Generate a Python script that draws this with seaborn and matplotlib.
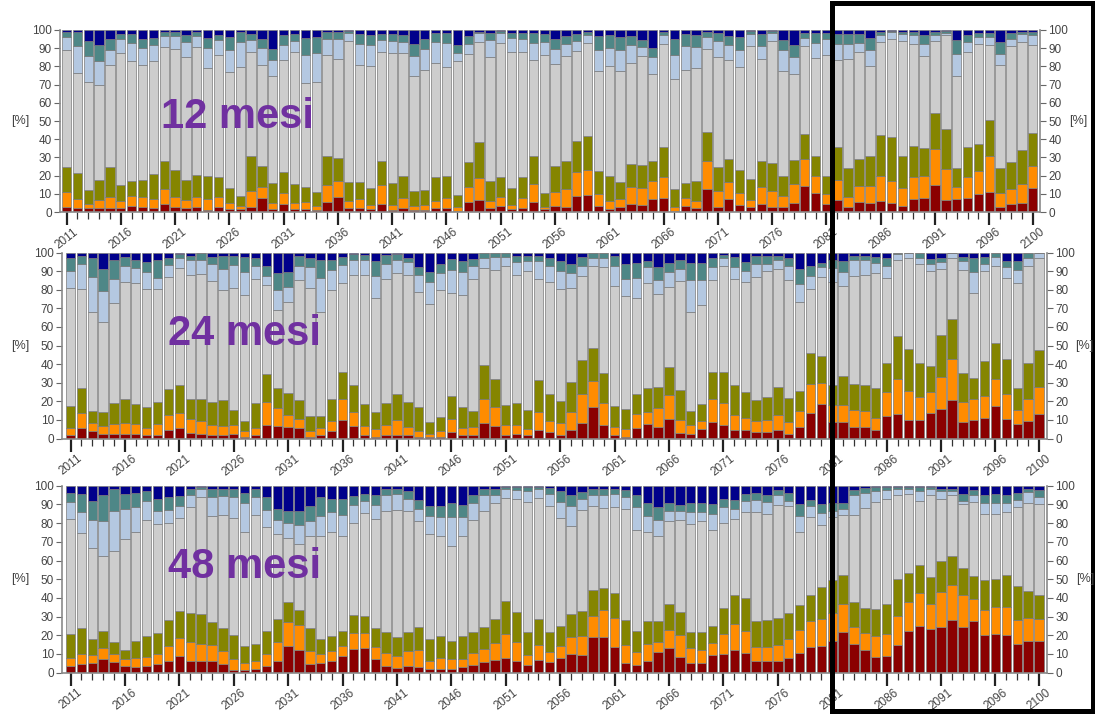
import numpy as np
import pandas as pd
import matplotlib
matplotlib.use("Agg")
import matplotlib.pyplot as plt
import matplotlib.patches as patches
import seaborn as sns

years = list(range(2011, 2101))
titles = ["12 mesi", "24 mesi", "48 mesi"]

# classes, stacked bottom -> top
classes = ["red", "orange", "olive", "gray", "lightblue", "teal", "navy"]
palette = {"red": "#8B0000", "orange": "#FF8C00", "olive": "#858500",
           "gray": "#CDCDCD", "lightblue": "#B4C8E1", "teal": "#4E8787",
           "navy": "#00008B"}

# cumulative top of each class [%] per year (navy fills up to 100)
red_12 = [3, 2, 2, 2, 2, 2, 3.5, 3, 2, 4.5, 2.5, 2, 2.5, 1, 3, 1.5, 1.5, 2.5, 7.5, 1.5,
          4.5, 1.5, 1.5, 1, 5.5, 8, 2, 2, 1.5, 4.5, 1, 2, 1, 1, 2, 2, 0.5, 5.5, 6.5, 2,
          3.5, 1.5, 2, 5.5, 1.5, 3.5, 2.5, 9, 9.5, 3.5, 1.5, 3, 4.5, 4, 7, 7.5, 0.5, 3.5, 2, 12.5,
          3, 7, 4, 2.5, 4.5, 3, 3, 5, 14.5, 10.5, 4.5, 6.5, 3, 5.5, 5, 6, 5, 3.5, 7, 7.5,
          15, 6.5, 7, 7.5, 10, 11, 3, 4.5, 5, 13]
orange_12 = [11, 7, 4.5, 6.5, 8.5, 6, 9, 8, 7, 12.5, 8.5, 6.5, 8, 7, 8.5, 5, 3.5, 11.5, 14, 5,
             10.5, 5, 5.5, 3.5, 15, 17, 6, 7, 4, 15, 4, 7.5, 3.5, 4, 6, 7.5, 2.5, 13.5, 18.5, 6,
             8, 4, 7.5, 15.5, 3, 11, 12.5, 22, 23, 10, 6, 7, 13.5, 13, 17, 19, 3, 7.5, 6, 28,
             11.5, 16.5, 10.5, 6.5, 13.5, 11.5, 9, 15.5, 29, 20, 10, 17.5, 8.5, 14.5, 14.5, 20, 17, 13, 19, 20,
             34.5, 23.5, 14, 19, 22.5, 30.5, 10.5, 12.5, 15.5, 25.5]
olive_12 = [25, 21.5, 12, 17.5, 24.5, 15, 17, 17.5, 21, 28, 23, 17.5, 20.5, 20, 19, 13, 9, 30.5, 25.5, 16,
            22, 15.5, 13.5, 11, 31, 29.5, 16.5, 16.5, 13, 28, 16, 20, 11.5, 12, 19, 20, 9.5, 27.5, 38.5, 17,
            19, 13, 19.5, 31, 10.5, 25.5, 28, 39, 42, 22.5, 20, 16.5, 26.5, 26, 28, 35.5, 12.5, 16, 17, 44,
            25, 29, 23, 18, 28, 27, 20, 28.5, 43, 30.5, 20, 35.5, 24, 29, 31, 42.5, 41, 31, 36.5, 35,
            54.5, 45.5, 24, 35.5, 37.5, 50.5, 24, 27.5, 34, 43.5]
gray_12 = [89, 76.5, 71.5, 70, 81, 87.5, 83, 80.5, 83, 90.5, 89.5, 85, 90.5, 79, 86.5, 77, 79.5, 88, 81, 74.5,
           83.5, 88, 71, 71.5, 86, 84, 94, 81, 80, 88, 87.5, 87.5, 75, 78, 82, 79.5, 83, 87, 93.5, 85,
           93, 88, 88, 83.5, 86, 81.5, 85.5, 88.5, 93, 77.5, 80, 77.5, 82, 85.5, 76, 92.5, 73, 78, 79, 89.5,
           85, 83.5, 79.5, 91, 84, 94, 77.5, 76, 91, 84.5, 86, 83.5, 84, 88, 80, 93.5, 95, 94, 92.5, 85.5,
           94, 97, 75, 88, 92.5, 91.5, 81, 91, 93.5, 92]
lblue_12 = [96, 91, 85.5, 83, 89, 95, 93, 90, 91.5, 96.5, 96.5, 93.5, 96.5, 90, 94.5, 89, 93.5, 94.5, 90, 83.5,
            92, 94, 86, 87.5, 95, 95, 98.5, 92.5, 92, 94.5, 94, 93.5, 85.5, 89.5, 93.5, 93, 87.5, 92.5, 98.5, 94.5,
            98.5, 95.5, 95, 93, 93.5, 89.5, 92.5, 94, 97, 89, 90, 89, 91.5, 90.5, 85, 97.5, 86.5, 91, 90.5, 96,
            94, 91.5, 89, 98, 91, 98.5, 89, 85, 95.5, 93, 95, 92.5, 92.5, 93, 89, 97, 99, 98, 97, 92.5,
            97, 98.5, 87, 93.5, 96, 96, 87, 95, 98, 97]
teal_12 = [99, 99, 94, 91.5, 95, 98, 98, 95, 95.5, 99, 99, 97.5, 99, 95.5, 97.5, 96, 99, 98, 95, 89.5,
           97.5, 98, 95.5, 96, 99, 99, 99.5, 98, 97.5, 98, 98, 97.5, 92.5, 95, 98.5, 98.5, 92, 96.5, 99, 98.5,
           99.5, 98.5, 98.5, 98.5, 98, 95, 96.5, 98, 99, 96.5, 97, 96, 96.5, 94.5, 90, 99, 95, 98, 97.5, 99,
           98.5, 96.5, 96, 99.5, 98, 99.5, 94.5, 92, 98.5, 98.5, 98.5, 98, 98, 98, 95.5, 99, 99.5, 99, 99, 97.5,
           99, 99.5, 94.5, 97.5, 98.5, 98.5, 93.5, 98.5, 99, 99]

red_24 = [2, 5.5, 4, 2.5, 2.5, 2.5, 2.5, 2, 2, 4.5, 5.5, 3, 2.5, 2, 2, 2.5, 1, 2, 7, 6.5,
          6, 5.5, 1, 2, 4, 10, 6.5, 2, 1, 2, 2, 2, 1, 1, 1, 3.5, 2, 2, 8.5, 6.5,
          2, 2.5, 2, 4.5, 3.5, 2, 4.5, 8.5, 17, 7, 2, 1, 5.5, 8, 6, 10.5, 3, 2.5, 5, 9,
          7.5, 4.5, 4.5, 3.5, 3.5, 4.5, 2.5, 6, 13.5, 18.5, 9, 9, 6, 6, 4.5, 12, 13, 10, 10, 13.5,
          16, 20.5, 9, 10, 11, 17.5, 10.5, 8, 9.5, 13]
orange_24 = [5.5, 13.5, 8.5, 6.5, 8, 8.5, 8, 5.5, 8, 12.5, 13.5, 10.5, 9.5, 7, 6.5, 7, 4, 5.5, 19.5, 16.5,
             12.5, 10.5, 4, 5.5, 9.5, 21, 14, 6.5, 5, 7.5, 10, 6, 4, 2.5, 4, 10.5, 5.5, 6, 21, 17,
             7, 7, 5, 14, 9.5, 8.5, 14.5, 24, 31, 19, 6, 5, 13, 14.5, 16.5, 23.5, 10, 7, 9.5, 21,
             19, 12.5, 11, 9.5, 10, 12.5, 9, 15, 29.5, 30, 18, 18, 15.5, 15, 11, 25, 32, 25.5, 22.5, 25,
             33, 42.5, 19.5, 21, 23, 32, 24, 15.5, 21, 27.5]
olive_24 = [17.5, 27, 15, 14, 19, 21, 18.5, 17, 19.5, 26.5, 29, 21, 21, 19.5, 20.5, 15.5, 9.5, 19, 34.5, 27,
            24.5, 20.5, 12, 12, 21, 35.5, 29, 18.5, 14.5, 19, 24, 19.5, 17, 9, 11.5, 23, 17, 15, 39.5, 32,
            18, 19, 15.5, 31.5, 24, 20, 30.5, 42, 48.5, 35, 17.5, 16, 24, 27, 27.5, 38.5, 26, 15, 18.5, 36,
            35.5, 29, 25, 20.5, 22.5, 27.5, 22, 25.5, 46, 44.5, 29, 33.5, 29.5, 29, 27, 40.5, 55, 48, 40.5, 39,
            55.5, 64, 35, 32.5, 41.5, 51.5, 42.5, 27, 40.5, 47.5]
gray_24 = [81, 80.5, 68, 62.5, 73, 84, 83.5, 80.5, 80.5, 87, 91.5, 88, 88.5, 84.5, 80, 81, 77, 86, 82.5, 69,
           73.5, 85, 81, 68, 80, 83.5, 88, 88, 75.5, 86, 89, 88, 79, 72.5, 80, 78, 77, 86, 91.5, 90.5,
           92.5, 88, 90, 86, 84, 80.5, 81, 87.5, 93, 92, 82, 76.5, 75.5, 83.5, 77.5, 81.5, 84.5, 68, 72, 85,
           93, 86, 84, 87, 90, 91, 85, 73.5, 80.5, 87, 84, 82, 87.5, 88, 89, 86.5, 96, 97, 94, 90,
           91, 97, 90.5, 78, 90, 93, 86.5, 83.5, 92.5, 97]
lblue_24 = [90, 94, 87, 79.5, 86, 93, 91.5, 89.5, 86.5, 93.5, 97, 96, 96, 94, 91, 93.5, 89.5, 93, 87.5, 80,
            81.5, 93, 92, 86.5, 90.5, 93.5, 96, 96, 87.5, 94, 96, 95, 88, 84, 89, 90.5, 89.5, 93, 97, 97.5,
            97.5, 95, 95.5, 95.5, 93, 90, 89, 93, 97, 97, 93, 85.5, 86.5, 92, 85, 89.5, 91, 85, 85, 92,
            97, 92, 90, 94, 94, 96, 93, 83, 87.5, 92, 91.5, 89.5, 96, 96, 94.5, 93, 99, 99.5, 97, 94,
            95, 99.5, 95.5, 89.5, 94, 97.5, 92, 90.5, 97, 99.5]
teal_24 = [97, 98, 97, 91, 96, 97.5, 96, 95, 96, 97, 99, 98, 99.5, 97.5, 98, 98, 97.5, 97, 93, 89,
           89.5, 98, 97, 96, 96, 97.5, 99, 98.5, 95.5, 98.5, 99, 97, 92, 89.5, 94, 96.5, 95.5, 96.5, 99.5, 99.5,
           99.5, 98, 98, 98, 97, 95.5, 94, 97.5, 99.5, 99.5, 98, 94, 94.5, 95.5, 92, 94.5, 96, 94.5, 94.5, 97,
           98.5, 97.5, 95, 98, 98, 98, 97, 91, 93, 94.5, 96, 95.5, 98, 98, 97.5, 97, 99.5, 99.5, 99.5, 96.5,
           97, 99.5, 97.5, 97, 97.5, 99.5, 95.5, 95.5, 99.5, 99.5]

red_48 = [3.5, 4.5, 5, 7.5, 5.5, 3.5, 3, 3.5, 4.5, 6.5, 9, 6.5, 6.5, 6, 4.5, 1.5, 1.5, 2, 3.5, 6.5,
          14.5, 12, 4.5, 5, 6.5, 9, 12.5, 13, 7.5, 3.5, 2.5, 3.5, 3, 2, 2, 2, 3, 4, 5.5, 7,
          8, 6.5, 4, 7, 5.5, 8, 10, 9.5, 19, 19, 13.5, 5, 4, 6.5, 11, 13, 8.5, 5, 5, 9.5,
          10, 12, 10.5, 6.5, 6.5, 6.5, 8, 10.5, 13.5, 14.5, 17, 21.5, 15.5, 12, 8.5, 9, 15, 22.5, 25, 23.5,
          24.5, 28, 24.5, 27.5, 20, 20.5, 20, 15.5, 17, 17]
orange_48 = [8, 10, 9.5, 13, 10, 7.5, 8, 8.5, 10, 14.5, 18.5, 16.5, 15.5, 15, 11.5, 7.5, 5, 6, 10, 16.5,
             27, 25.5, 11.5, 10, 11.5, 14.5, 21, 21, 14, 10.5, 9, 11.5, 12, 6, 8, 7.5, 7.5, 10.5, 12.5, 16,
             20.5, 16.5, 9.5, 15, 11, 14.5, 19, 19.5, 30.5, 33.5, 29, 15, 11, 15.5, 16.5, 23, 20, 13, 12, 16,
             20.5, 26, 22.5, 13.5, 13.5, 15, 18, 23, 27.5, 28.5, 32, 37, 24.5, 21, 19.5, 20.5, 30.5, 38, 42.5, 37,
             43, 47, 41.5, 39.5, 33.5, 35, 35, 28, 29.5, 28.5]
olive_48 = [20.5, 24, 18, 22.5, 16.5, 12, 17, 19.5, 21, 28, 33, 32, 31.5, 27, 24, 20, 14.5, 15.5, 22.5, 28.5,
            38, 33.5, 24, 18, 19.5, 22.5, 31, 30.5, 24, 22, 19, 22, 24.5, 18, 19.5, 17, 19.5, 21.5, 24.5, 28.5,
            38.5, 32.5, 22, 28.5, 22, 25, 31.5, 33, 44, 45.5, 42.5, 28, 22.5, 27.5, 27.5, 37, 32.5, 22, 21.5, 25,
            34.5, 41.5, 40, 27.5, 28, 29, 32, 36, 41.5, 46, 49.5, 52.5, 38, 34.5, 34, 37, 50, 53.5, 57.5, 51,
            59.5, 62.5, 56, 51.5, 49.5, 50, 52.5, 46.5, 43.5, 41.5]
gray_48 = [82, 74.5, 66.5, 62.5, 65, 71.5, 75.5, 81.5, 79.5, 80, 82.5, 88.5, 94, 84, 84.5, 82.5, 75.5, 84.5, 78, 74,
           72, 69, 73, 73, 75.5, 73, 80, 85.5, 82, 86.5, 87, 86.5, 81, 74, 73, 67.5, 73, 81.5, 86.5, 90.5,
           93.5, 93, 91.5, 93.5, 89, 82.5, 78.5, 87, 89, 88, 88.5, 87.5, 76.5, 75.5, 73, 81, 81.5, 79.5, 81, 76.5,
           80, 82, 86, 86, 85, 89.5, 89, 75.5, 83, 79, 83, 84.5, 84.5, 88, 91.5, 93, 95, 95.5, 92, 95,
           93, 95, 90, 91.5, 85, 85, 86, 88.5, 91, 90]
lblue_48 = [91.5, 86, 81.5, 81, 86.5, 87.5, 88.5, 92, 86.5, 87, 89, 95, 98.5, 94, 94.5, 94, 90.5, 94, 87, 81.5,
            80, 79, 81, 84, 86, 84.5, 89.5, 92, 89.5, 95, 95.5, 93, 87.5, 84, 83, 83, 83, 90.5, 95, 95,
            98, 97.5, 97, 98, 95.5, 91.5, 89, 93, 95, 95, 95.5, 94, 88.5, 84, 81.5, 86.5, 86.5, 86, 86, 85,
            88.5, 87.5, 92, 92.5, 91.5, 95, 92, 84, 89, 85.5, 86.5, 87.5, 95, 96, 97, 97.5, 98, 98, 97, 98,
            97, 97, 92, 95, 90.5, 90.5, 91, 92.5, 96.5, 94]
teal_48 = [96, 95.5, 92, 95, 98, 95.5, 96, 97, 93, 94, 94.5, 98, 99.5, 98, 98, 98, 96, 98, 94, 87.5,
           86.5, 86.5, 89, 94, 93, 93, 94.5, 95.5, 95, 98, 98, 97, 92.5, 89, 89, 91, 89.5, 95, 98, 98,
           99.5, 99.5, 99.5, 99.5, 99, 97, 95, 96.5, 98, 98.5, 98.5, 97.5, 95, 90.5, 88.5, 91, 89.5, 91, 91, 90,
           93, 92.5, 95.5, 96, 95, 97.5, 96, 90, 92.5, 90, 91, 91, 97.5, 99, 99.5, 99.5, 99.5, 99.5, 99.5, 99.5,
           98.5, 98.5, 95.5, 97.5, 95, 95.5, 95, 96, 98, 97.5]

panels = [
    [red_12, orange_12, olive_12, gray_12, lblue_12, teal_12],
    [red_24, orange_24, olive_24, gray_24, lblue_24, teal_24],
    [red_48, orange_48, olive_48, gray_48, lblue_48, teal_48],
]


def to_long(levels):
    tops = np.vstack(levels + [np.full(len(years), 100.0)])
    seg = np.clip(np.diff(tops, axis=0, prepend=0), 0, None)
    rows = []
    for i, c in enumerate(classes):
        rows.append(pd.DataFrame({"year": years, "cls": c, "pct": seg[i]}))
    return pd.concat(rows, ignore_index=True)


sns.set_style("ticks")
plt.rcParams["font.family"] = ["Liberation Sans", "DejaVu Sans"]

W, H = 1095, 714
fig = plt.figure(figsize=(W / 100, H / 100), dpi=100)

# axes boxes in pixels: left, right, top, bottom, and x positions of 2011 / 2100 bars
boxes = [(60, 1040, 30, 212, 66.5, 1032.7),
         (62.3, 1046.7, 252.5, 438.5, 70.5, 1039),
         (62.3, 1047, 485.7, 672.7, 70.5, 1039)]
title_pos = [(161, 128.3), (167.7, 345.3), (167.7, 577.7)]

for k, (levels, box) in enumerate(zip(panels, boxes)):
    l, r, t, b, x0, x1 = box
    ax = fig.add_axes([l / W, 1 - b / H, (r - l) / W, (b - t) / H])
    df = to_long(levels)
    sns.histplot(data=df, x="year", weights="pct", hue="cls", hue_order=classes[::-1],
                 palette=palette, multiple="stack", discrete=True, shrink=0.86,
                 alpha=1, edgecolor="#7a7a7a", linewidth=0.5, legend=False, ax=ax)
    ppy = (x1 - x0) / 89
    ax.set_xlim(2011 - (x0 - l) / ppy, 2100 + (r - x1) / ppy)
    ax.set_ylim(0, 100)
    ax.set_xlabel("")
    ax.set_ylabel("")
    ax.set_yticks(range(0, 101, 10))
    ax.tick_params(axis="y", left=True, right=True, labelleft=True, labelright=True,
                   length=4, width=0.8, color="#666666", labelsize=8.5,
                   labelcolor="#444444", pad=2)
    major = list(range(2011, 2100, 5)) + [2100]
    ax.set_xticks(major)
    ax.set_xticks(years, minor=True)
    ax.set_xticklabels([str(y) for y in major], rotation=38, fontsize=8.5, color="#444444")
    ax.tick_params(axis="x", which="major", length=9, width=1.6, color="#222222", pad=1)
    ax.tick_params(axis="x", which="minor", length=5, width=0.9, color="#333333")
    ax.spines["top"].set_visible(False)
    for s in ["left", "right", "bottom"]:
        ax.spines[s].set_color("#8a8a8a")
        ax.spines[s].set_linewidth(1.2)

    yc = 1 - ((t + b) / 2) / H
    fig.text(20 / W, yc, "[%]", fontsize=9, color="#444444", ha="center", va="center")
    fig.text((r + 38) / W, yc, "[%]", fontsize=9, color="#444444", ha="center", va="center")

    tx, ty = title_pos[k]
    fig.text(tx / W, 1 - ty / H, titles[k], fontsize=30, fontweight="bold",
             color="#7030A0", ha="left", va="baseline")

rect = patches.Rectangle((831.7 / W, 3 / H), (1093 - 831.7) / W, (711 - 3) / H,
                         transform=fig.transFigure, fill=False, edgecolor="black",
                         linewidth=3.6, clip_on=False)
fig.patches.append(rect)

fig.savefig("out.png", dpi=100)
